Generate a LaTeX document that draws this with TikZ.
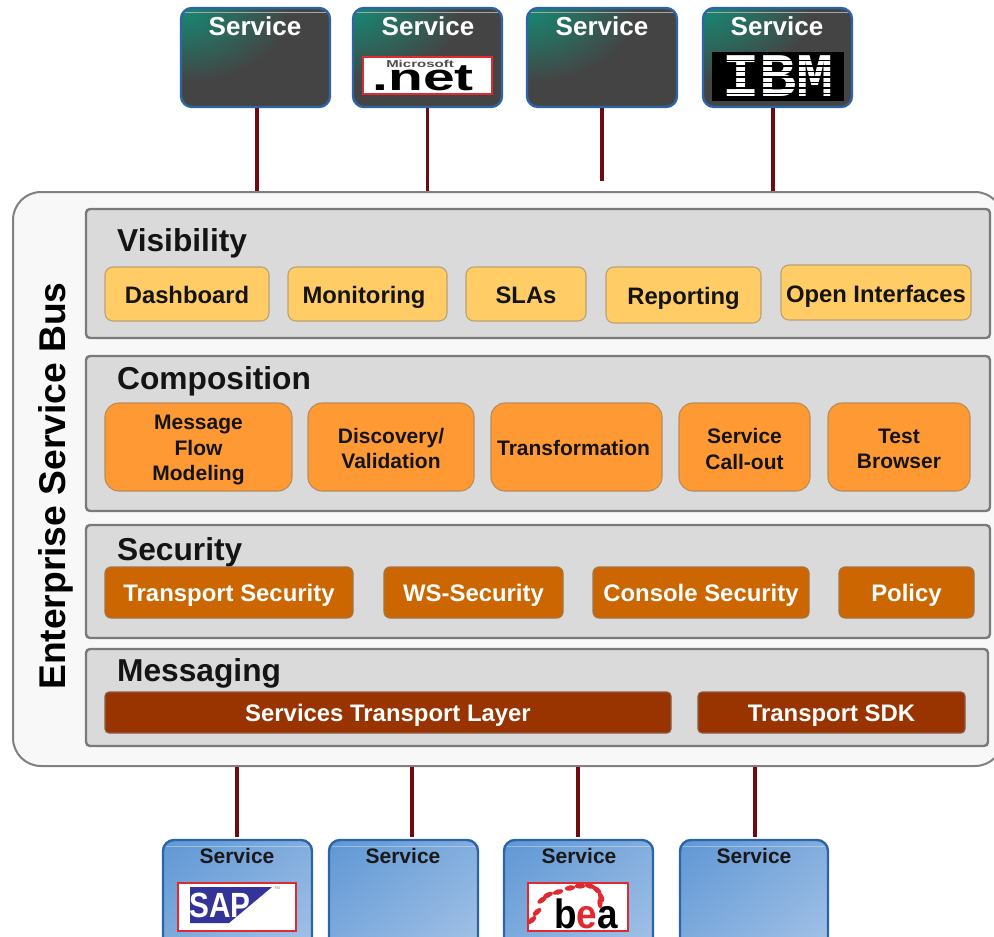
\documentclass[tikz,border=0pt]{standalone}
\usepackage{fontspec}
\setmainfont{Liberation Sans}
\newfontfamily\ibmfont{Liberation Mono}
\usetikzlibrary{calc,shadings}
\definecolor{busfill}{HTML}{F8F8F8}
\definecolor{busline}{HTML}{808080}
\definecolor{panelfill}{HTML}{DADADA}
\definecolor{panelline}{HTML}{7A7A7A}
\definecolor{wire}{HTML}{6E0B10}
\definecolor{svcline}{HTML}{2C64A6}
\definecolor{svcdark}{HTML}{444444}
\definecolor{svcteal}{HTML}{148A74}
\definecolor{bluea}{HTML}{5F97D4}
\definecolor{blueb}{HTML}{A6C4E8}
\definecolor{vis}{HTML}{FFCC66}
\definecolor{comp}{HTML}{FF9933}
\definecolor{sec}{HTML}{CC6600}
\definecolor{msg}{HTML}{993300}
\definecolor{logored}{HTML}{E02A30}
\definecolor{sapblue}{HTML}{33339A}
\tikzset{
  bus/.style={draw=busline,line width=2pt,fill=busfill,rounded corners=28pt},
  panel/.style={draw=panelline,line width=2.4pt,fill=panelfill,rounded corners=4pt},
  itembox/.style 2 args={draw=#1!45!gray,line width=1.1pt,rounded corners=#2,fill=#1,inner sep=0pt},
  txtv/.style={text=black!92,align=center,font=\bfseries\fontsize{23.8}{26}\selectfont,inner sep=0pt},
  txtc/.style={text=black!92,align=center,font=\bfseries\fontsize{21}{25.5}\selectfont,inner sep=0pt},
  txts/.style={text=white,align=center,font=\bfseries\fontsize{23.9}{26}\selectfont,inner sep=0pt},
  svcdarkbox/.style={draw=svcline,line width=2.4pt,rounded corners=11pt,inner sep=0pt},
  svcbluebox/.style={draw=svcline,line width=2.4pt,rounded corners=11pt,inner sep=0pt},
  title/.style={font=\bfseries\fontsize{31.7}{33}\selectfont,text=black!92,anchor=west,inner sep=0pt},
  svclabel/.style={font=\bfseries\fontsize{26}{28}\selectfont,inner sep=0pt},
  svclabelb/.style={font=\bfseries\fontsize{21}{23}\selectfont,text=black!90,inner sep=0pt},
  wireline/.style={draw=wire,line width=3.4pt},
  logobox/.style={draw=logored,line width=1.8pt,fill=white,inner sep=0pt},
}
% \bx{name}{x1}{y1}{x2}{y2}{style}{text}
\newcommand{\bx}[7]{\node[#6,minimum width={(#4)-(#2)},minimum height={(#5)-(#3)}] (#1) at ({((#2)+(#4))/2},{((#3)+(#5))/2}) {#7};}
% \bt{name}{x1}{y1}{x2}{y2}{box style}{text style}{text}
\newcommand{\bt}[8]{\bx{#1}{#2}{#3}{#4}{#5}{#6}{}\node[#7] (#1t) at ([yshift=-3pt]#1.center) {#8};}
\newcommand{\darksvc}[5]{%
  \begin{scope}
    \clip[rounded corners=11pt] (#2,#3) rectangle (#4,#5);
    \fill[svcdark] (#2,#3) rectangle (#4,#5);
    \shade[inner color=svcteal,outer color=svcdark] (#2,#3) ellipse [x radius=110,y radius=75];
    \draw[gray!70,line width=.8pt] (#2,{#3+4}) -- (#4,{#3+4});
  \end{scope}
  \bx{#1}{#2}{#3}{#4}{#5}{svcdarkbox}{}
}
\newcommand{\bluesvc}[5]{%
  \begin{scope}
    \clip[rounded corners=11pt] (#2,#3) rectangle (#4,#5);
    \shade[lower right=blueb,upper left=bluea,upper right=bluea!50!blueb,lower left=bluea!50!blueb] (#2,#3) rectangle (#4,#5);
    \draw[white,opacity=.35,line width=.8pt] (#2,{#3+6}) -- (#4,{#3+6});
  \end{scope}
  \bx{#1}{#2}{#3}{#4}{#5}{svcbluebox}{}
}
\begin{document}
\begin{tikzpicture}[x=1pt,y=-1pt]
\useasboundingbox (0,0) rectangle (994,937);
\clip (0,0) rectangle (994,937);

% bus
\bx{busbox}{13}{192}{1003}{766}{bus}{}
\node[rotate=90,font=\bfseries\fontsize{37.2}{39}\selectfont,inner sep=0pt] (bustitle) at (55.5,486) {Enterprise Service Bus};

% top services
\darksvc{st1}{181}{8}{330}{107}
\darksvc{st2}{353}{8}{502}{107}
\darksvc{st3}{527}{8}{677}{107}
\darksvc{st4}{703}{8}{852}{107}
\node[svclabel,text=white] (lt1) at (255,26) {Service};
\node[svclabel,text=white] (lt2) at (428,26) {Service};
\node[svclabel,text=white] (lt3) at (602,26) {Service};
\node[svclabel,text=white] (lt4) at (777,26) {Service};

% .net logo
\bx{netlogo}{363}{57}{492}{94}{logobox}{}
\node[font=\bfseries\fontsize{10}{10}\selectfont,text=black!70,inner sep=0pt] (netms) at (420,63.5) {\scalebox{1.5}[1]{Microsoft}};
\node[font=\bfseries\fontsize{38}{38}\selectfont,inner sep=0pt,anchor=base] (nettext) at (423,90) {\scalebox{1.5}[1]{.net}};

% IBM logo
\bx{ibmlogo}{712}{52}{844}{101}{fill=black,inner sep=0pt}{}
\node[font=\ibmfont\bfseries\fontsize{62}{62}\selectfont,text=white,inner sep=0pt] (ibmtext) at (778,76) {IBM};
\foreach \yy in {60.5,66,71.5,77,82.5,88,93.5}{
  \draw[black,line width=1.6pt] (718,\yy) -- (840,\yy);
}

% bottom services
\bluesvc{sb1}{163}{840}{312}{960}
\bluesvc{sb2}{329}{840}{478}{960}
\bluesvc{sb3}{504}{840}{653}{960}
\bluesvc{sb4}{680}{840}{828}{960}
\node[svclabelb] (lb1) at (237,856) {Service};
\node[svclabelb] (lb2) at (403,856) {Service};
\node[svclabelb] (lb3) at (579,856) {Service};
\node[svclabelb] (lb4) at (754,856) {Service};

% SAP logo
\bx{saplogo}{178}{883}{296}{931}{logobox}{}
\fill[sapblue] (190,887) -- (272,887) -- (229,923) -- (190,923) -- cycle;
\node[font=\bfseries\fontsize{35}{35}\selectfont,text=white,inner sep=0pt,anchor=base] (saptext) at (220,917) {\scalebox{.85}[1]{SAP}};
\node[font=\fontsize{4}{4}\selectfont,text=gray,inner sep=0pt] (saptm) at (277,888) {TM};

% BEA logo
\bx{bealogo}{528}{883}{628}{931}{logobox}{}
\foreach \px/\py/\pa in {532/920/40,537/912/40,542/900/35,548/895/25,558/892/15,570/888/10,580/886/0,590/886/-15,597/890/-40,601/897/-65,600/903/-85}{
  \fill[logored,rotate around={\pa:(\px,\py)}] (\px,\py) ellipse [x radius=5.5,y radius=2.6];
}
\node[font=\bfseries\fontsize{41}{41}\selectfont,inner sep=0pt,anchor=base] (beatext) at (586,928) {\scalebox{.9}[1]{b\textcolor{logored}{e}a}};

% Visibility
\bx{pv}{86}{209}{990}{338}{panel}{}
\node[title] (tv) at (117,243) {Visibility};
\bt{v1}{105}{267}{269}{321}{itembox={vis}{8pt}}{txtv,yshift=2pt}{Dashboard}
\bt{v2}{288}{267}{447}{321}{itembox={vis}{8pt}}{txtv,xshift=-3.5pt}{Monitoring}
\bt{v3}{466}{267}{586}{321}{itembox={vis}{8pt}}{txtv,yshift=2pt}{SLAs}
\bt{v4}{606}{267}{761}{323}{itembox={vis}{8pt}}{txtv}{Reporting}
\bt{v5}{781}{265}{971}{320}{itembox={vis}{8pt}}{txtv,yshift=-1pt}{Open Interfaces}

% Composition
\bx{pc}{86}{356}{990}{511}{panel}{}
\node[title] (tc) at (117,381) {Composition};
\bt{c1}{105}{403}{292}{491}{itembox={comp}{14pt}}{txtc}{Message\\Flow\\Modeling}
\bt{c2}{308}{403}{474}{491}{itembox={comp}{14pt}}{txtc,yshift=1.5pt}{Discovery/\\Validation}
\bt{c3}{491}{403}{662}{491}{itembox={comp}{14pt}}{txtc,xshift=-3pt,yshift=2pt}{Transformation}
\bt{c4}{679}{403}{810}{491}{itembox={comp}{14pt}}{txtc,yshift=1pt}{Service\\Call-out}
\bt{c5}{828}{403}{970}{491}{itembox={comp}{14pt}}{txtc,yshift=1pt}{Test\\Browser}

% Security
\bx{ps}{86}{525}{990}{638}{panel}{}
\node[title] (ts) at (117,552) {Security};
\bt{s1}{105}{567}{353}{618}{itembox={sec}{6pt}}{txts}{Transport Security}
\bt{s2}{384}{567}{563}{618}{itembox={sec}{6pt}}{txts}{WS-Security}
\bt{s3}{593}{567}{809}{618}{itembox={sec}{6pt}}{txts}{Console Security}
\bt{s4}{839}{567}{974}{618}{itembox={sec}{6pt}}{txts}{Policy}

% Messaging
\bx{pm}{86}{649}{988}{746}{panel}{}
\node[title] (tm) at (117,673) {Messaging};
\bt{m1}{105}{692}{671}{733}{itembox={msg}{4pt}}{txts}{Services Transport Layer}
\bt{m2}{698}{692}{965}{733}{itembox={msg}{4pt}}{txts}{Transport SDK}

% connectors
\coordinate (e3) at (602,181);
\draw[wireline] ([xshift=1.5pt]st1.south) -- ([xshift=1.5pt]st1.south |- busbox.north);
\draw[wireline] (st2.south) -- (st2.south |- busbox.north);
\draw[wireline] (st3.south) -- (e3);
\draw[wireline] ([xshift=-4.5pt]st4.south) -- ([xshift=-4.5pt]st4.south |- busbox.north);
\coordinate (b1) at (237,837);
\coordinate (b2) at (412,837);
\coordinate (b3) at (578,837);
\coordinate (b4) at (755,837);
\draw[wireline] (b1 |- busbox.south) -- (b1);
\draw[wireline] (b2 |- busbox.south) -- (b2);
\draw[wireline] (b3 |- busbox.south) -- (b3);
\draw[wireline] (b4 |- busbox.south) -- (b4);
\end{tikzpicture}
\end{document}
